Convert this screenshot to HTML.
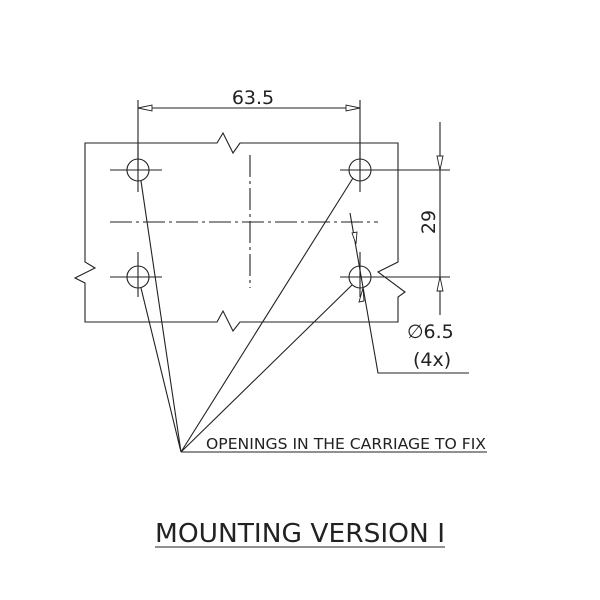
<!DOCTYPE html>
<html><head><style>
body{margin:0;background:#fff;}
svg{display:block;}
text{font-family:"DejaVu Sans","Liberation Sans",sans-serif;fill:#222;}
</style></head><body>
<svg width="600" height="600" viewBox="0 0 600 600">
<g fill="none" stroke="#222" stroke-width="1.1">
<path d="M85,143 H217 L223,133 L233,153 L240,143 H398 V262 L378,272 L405,292 L398,297 V322 H240 L233,331 L223,311 L217,322 H85 V283 L75,278 L95,268 L85,262 Z"/>
<circle cx="138" cy="170" r="11"/><circle cx="360" cy="170" r="11"/>
<circle cx="138" cy="277" r="11"/><circle cx="360" cy="277" r="11"/>
<path d="M110,170H162M138,145V192M110,277H162M138,252V297M340,170H450M360,145V192M340,277H450M360,252V297"/>
<path d="M110,222H378M250,155V288" stroke-dasharray="22,4,3,4"/>
<path d="M138,100V170M360,100V170M138,108H360"/>
<path d="M440,122V315"/>
<path d="M350,213L378,373H469"/>
<path d="M181,452L141,181M181,452L141,288M181,452L353,178M181,452L352,285M181,452H487"/>
<path d="M155,547H445"/>
</g>
<g fill="#fff" stroke="#222" stroke-width="0.9">
<path d="M138,108l14,-3v6z"/><path d="M360,108l-14,-3v6z"/>
<path d="M440,170l-3,-14h6z"/><path d="M440,277l-3,14h6z"/>
<path d="M356,244l-4,-11l5,-1z"/><path d="M363,288l1,13l-5,1z"/>
</g>
<text x="253" y="104" font-size="19" text-anchor="middle">63.5</text>
<text transform="translate(435,222) rotate(-90)" font-size="19" text-anchor="middle">29</text>
<text x="407" y="338" font-size="19">∅6.5</text>
<text x="413" y="366" font-size="19">(4x)</text>
<text x="206" y="449" font-size="15" textLength="280" lengthAdjust="spacingAndGlyphs">OPENINGS IN THE CARRIAGE TO FIX</text>
<text x="155" y="542" font-size="26" textLength="290" lengthAdjust="spacingAndGlyphs">MOUNTING VERSION I</text>
</svg>
</body></html>
